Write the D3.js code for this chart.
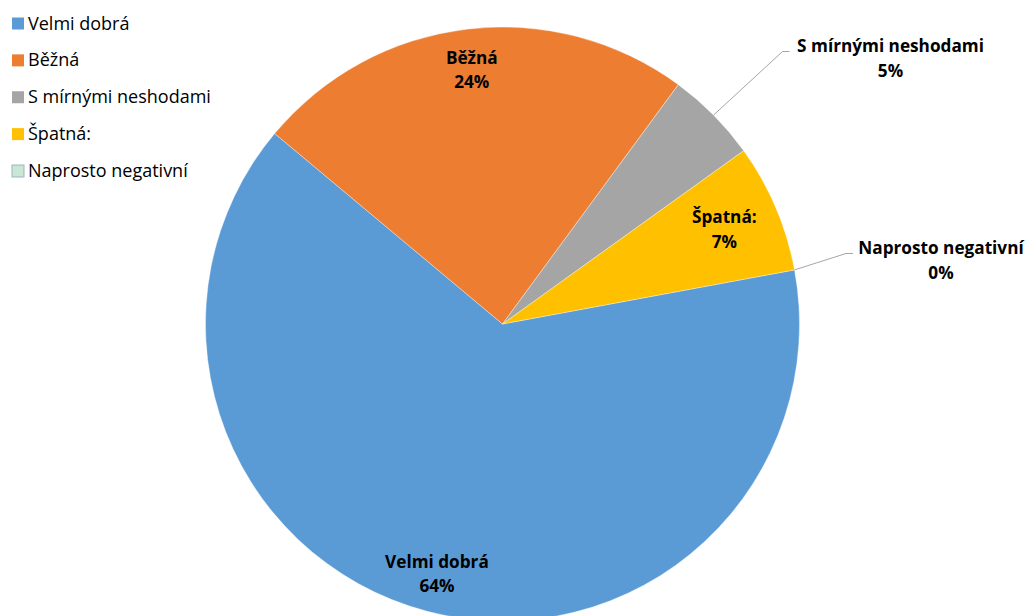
<!DOCTYPE html>
<html>
<head>
<meta charset="utf-8">
<script src="https://cdn.jsdelivr.net/npm/d3@7"></script>
<style>
  html, body { margin: 0; padding: 0; background: #fff; }
  svg { display: block; }
  text { font-family: "Open Sans", Lato, sans-serif; fill: #000; }
</style>
</head>
<body>
<svg id="chart" width="1027" height="616"></svg>
<script>
// Survey answers and their shares (percent)
const categories = ["Velmi dobrá", "Běžná", "S mírnými neshodami", "Špatná:", "Naprosto negativní"];
const shares = [64, 24, 5, 7, 0];
const sliceColors = ["#5b9bd5", "#ed7d31", "#a5a5a5", "#ffc000", "#c9e6d6"];

const W = 1027, H = 616;
const cx = 502.5, cy = 324, R = 297;
const startDeg = 79.5;

const svg = d3.select("#chart");

const data = categories.map((c, i) => ({ name: c, value: shares[i], color: sliceColors[i] }));

const pie = d3.pie()
  .value(d => d.value)
  .sort(null)
  .startAngle(startDeg * Math.PI / 180)
  .endAngle(startDeg * Math.PI / 180 + 2 * Math.PI);

const arcs = pie(data);
const arc = d3.arc().innerRadius(0).outerRadius(R);

const g = svg.append("g").attr("transform", `translate(${cx},${cy})`);

g.selectAll("path.slice")
  .data(arcs.filter(a => a.data.value > 0))
  .join("path")
  .attr("class", "slice")
  .attr("d", arc)
  .attr("fill", d => d.data.color)
  .attr("stroke", "#ffffff")
  .attr("stroke-opacity", 0.35)
  .attr("stroke-width", 1);

// Data labels: inside for the larger slices, outside with leaders for the thin ones
const labelFont = 17.2;
const lineGap = 24.5;
function polar(angle, r) {
  return [Math.sin(angle) * r, -Math.cos(angle) * r];
}

const labelSpec = {
  "Velmi dobrá":          { mode: "in",  r: 0.87 },
  "Běžná":                { mode: "in",  r: 0.862 },
  "Špatná:":              { mode: "in",  r: 0.812 },
  "S mírnými neshodami":  { mode: "out", dx: 388, dy: -266, elbow: 101 },
  "Naprosto negativní":   { mode: "out", dx: 438.5, dy: -64, elbow: 88 }
};

arcs.forEach(a => {
  const spec = labelSpec[a.data.name];
  const mid = (a.startAngle + a.endAngle) / 2;
  let lx, ly;
  if (spec.mode === "in") {
    [lx, ly] = polar(mid, R * spec.r);
  } else {
    lx = spec.dx; ly = spec.dy;
    const edge = polar(mid, R);
    const elbowX = lx - spec.elbow;
    const elbowY = ly - 6.5;
    g.append("polyline")
      .attr("points", [[edge[0], edge[1]], [elbowX - 7, elbowY], [elbowX, elbowY]].map(p => p.join(",")).join(" "))
      .attr("fill", "none")
      .attr("stroke", "#a6a6a6")
      .attr("stroke-width", 1);
  }
  const t = g.append("text")
    .attr("text-anchor", "middle")
    .attr("font-weight", 700)
    .attr("font-size", labelFont);
  t.append("tspan").attr("x", lx).attr("y", ly - 6).text(a.data.name);
  t.append("tspan").attr("x", lx).attr("y", ly - 6 + lineGap).text(d3.format(".0%")(a.data.value / 100));
});

// Legend
const legend = svg.append("g").attr("class", "legend");
const rowY = d3.scalePoint().domain(categories).range([29.5, 177]);
const legendRows = legend.selectAll("g.row")
  .data(data)
  .join("g")
  .attr("class", "row")
  .attr("transform", d => `translate(0,${rowY(d.name)})`);

legendRows.append("rect")
  .attr("x", 12).attr("y", -12)
  .attr("width", 12).attr("height", 12)
  .attr("fill", d => d.color)
  .attr("stroke", d => d.name === "Naprosto negativní" ? "#9fb5c0" : "none")
  .attr("stroke-width", 1);

legendRows.append("text")
  .attr("x", 28).attr("y", 0)
  .attr("font-size", 18)
  .text(d => d.name);
</script>
</body>
</html>
